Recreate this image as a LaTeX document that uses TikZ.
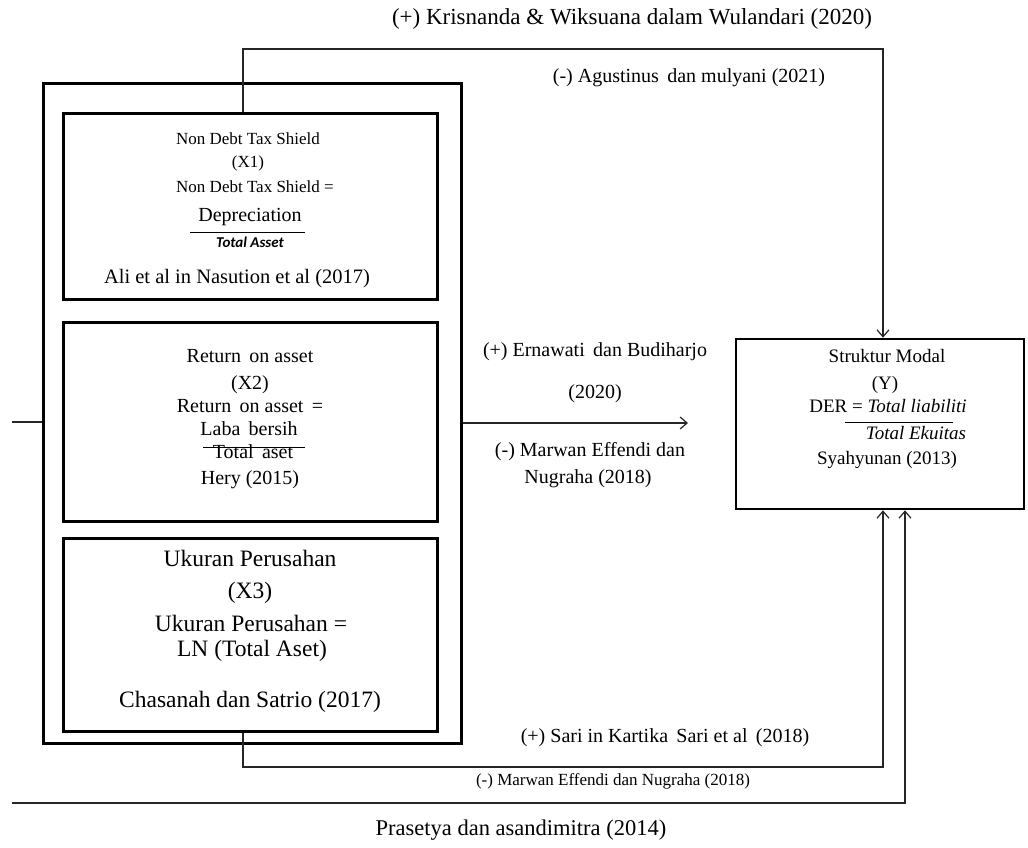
\documentclass[tikz,border=0pt]{standalone}
\usepackage{fontspec}
\setmainfont{Liberation Serif}
\newfontfamily\calfont{Carlito}
\usetikzlibrary{arrows.meta}

\newcommand{\fsz}[1]{\fontsize{#1}{#1}\selectfont}

\begin{document}
\begin{tikzpicture}[x=1pt, y=-1pt]

%-------------------------------------------------
% Styles
%-------------------------------------------------
\tikzset{
  outerbox/.style={draw=black, line width=3pt, inner sep=0pt,
    minimum width=418pt, minimum height=660pt},
  varbox/.style={draw=black, line width=3pt, inner sep=0pt,
    minimum width=374pt},
  depbox/.style={draw=black, line width=2.6pt, inner sep=0pt,
    minimum width=288pt, minimum height=170pt},
  txt/.style={inner sep=0pt, text height=0.95em, text depth=0.05em},
  link/.style={draw=black!85, line width=1.2pt},
  arrowlink/.style={link, -{Straight Barb[length=7pt, width=12pt]}},
  fracline/.style={draw=black, line width=1pt}
}

\useasboundingbox (0,0) rectangle (1028,847);

%-------------------------------------------------
% Boxes
%-------------------------------------------------
\node[outerbox] (outer) at (252,413) {};
\node[varbox, minimum height=186pt] (x1) at (250,206) {};
\node[varbox, minimum height=199pt] (x2) at (250,421.5) {};
\node[varbox, minimum height=193pt] (x3) at (250,634.5) {};
\node[depbox] (ybox) at (880,424) {};

%-------------------------------------------------
% X1 : Non Debt Tax Shield
%-------------------------------------------------
\node[txt] (x1a) at (248,140) {\fsz{17}Non Debt Tax Shield};
\node[txt] (x1b) at (248,163) {\fsz{17}(X1)};
\node[txt] (x1c) at (255,188) {\fsz{17}Non Debt Tax Shield =};
\node[txt] (x1d) at (250,217) {\fsz{20}Depreciation};
\draw[fracline] (190,232) -- (305,232);
\node[txt] (x1e) at (250,243) {\calfont\fsz{15}\bfseries\itshape Total Asset};
\node[txt] (x1f) at (237,279) {\fsz{20.5}Ali et al in Nasution et al (2017)};

%-------------------------------------------------
% X2 : Return on asset
%-------------------------------------------------
\node[txt] (x2a) at (250,358) {\fsz{20}Return\, on asset};
\node[txt] (x2b) at (250,385) {\fsz{20}(X2)};
\node[txt] (x2c) at (250,408) {\fsz{20}Return\, on asset\, =};
\node[txt] (x2d) at (249,431) {\fsz{20}Laba\, bersih};
\draw[fracline] (203,447) -- (305,447);
\node[txt] (x2e) at (253,454) {\fsz{20}Total\, aset};
\node[txt] (x2f) at (250,480) {\fsz{20}Hery (2015)};

%-------------------------------------------------
% X3 : Ukuran Perusahan
%-------------------------------------------------
\node[txt] (x3a) at (250,562) {\fsz{23.5}Ukuran Perusahan};
\node[txt] (x3b) at (250,594) {\fsz{23.5}(X3)};
\node[txt] (x3c) at (251,627) {\fsz{23.5}Ukuran Perusahan =};
\node[txt] (x3d) at (252,652) {\fsz{23.5}LN (Total Aset)};
\node[txt] (x3e) at (250,703) {\fsz{23.5}Chasanah dan Satrio (2017)};

%-------------------------------------------------
% Y : Struktur Modal
%-------------------------------------------------
\node[txt] (ya) at (887,358) {\fsz{19}Struktur Modal};
\node[txt] (yb) at (885,385) {\fsz{19}(Y)};
\node[txt] (yc) at (888,408) {\fsz{19}DER = \textit{Total liabiliti}};
\draw[fracline] (845,422) -- (953,422);
\node[txt] (yd) at (916,435) {\fsz{19}\textit{Total Ekuitas}};
\node[txt] (ye) at (887,460) {\fsz{19}Syahyunan (2013)};

%-------------------------------------------------
% Connectors
%-------------------------------------------------
\coordinate (topL) at (243,49);
\coordinate (topR) at (883,49);
\draw[arrowlink] (x1.north -| topL) -- (topL) -- (topR) -- (ybox.north -| topR);

\coordinate (inL) at (12,422);
\draw[link] (inL) -- (inL -| outer.west);

\coordinate (midE) at (688,423);
\draw[arrowlink] (midE -| outer.east) -- (midE);

\coordinate (bot1L) at (243,767);
\coordinate (bot1R) at (883,767);
\draw[arrowlink] (x3.south -| bot1L) -- (bot1L) -- (bot1R) -- (ybox.south -| bot1R);

\coordinate (bot2L) at (12,803);
\coordinate (bot2R) at (905,803);
\draw[arrowlink] (bot2L) -- (bot2R) -- (ybox.south -| bot2R);

%-------------------------------------------------
% Connector labels
%-------------------------------------------------
\node[txt] (lblK) at (632,20) {\fsz{23}(+) Krisnanda \& Wiksuana dalam Wulandari (2020)};
\node[txt] (lblA) at (689,78) {\fsz{20}(-) Agustinus\, dan mulyani (2021)};
\node[txt] (lblE) at (595,352) {\fsz{20}(+) Ernawati\, dan Budiharjo};
\node[txt] (lblE2) at (595,394) {\fsz{20}(2020)};
\node[txt] (lblM) at (590,452) {\fsz{20}(-) Marwan Effendi dan};
\node[txt] (lblM2) at (588,479) {\fsz{20}Nugraha (2018)};
\node[txt] (lblS) at (665,738) {\fsz{20}(+) Sari in Kartika\, Sari et al\, (2018)};
\node[txt] (lblM3) at (613,781) {\fsz{17}(-) Marwan Effendi dan Nugraha (2018)};
\node[txt] (lblP) at (521,831) {\fsz{22.5}Prasetya dan asandimitra (2014)};

\end{tikzpicture}
\end{document}
